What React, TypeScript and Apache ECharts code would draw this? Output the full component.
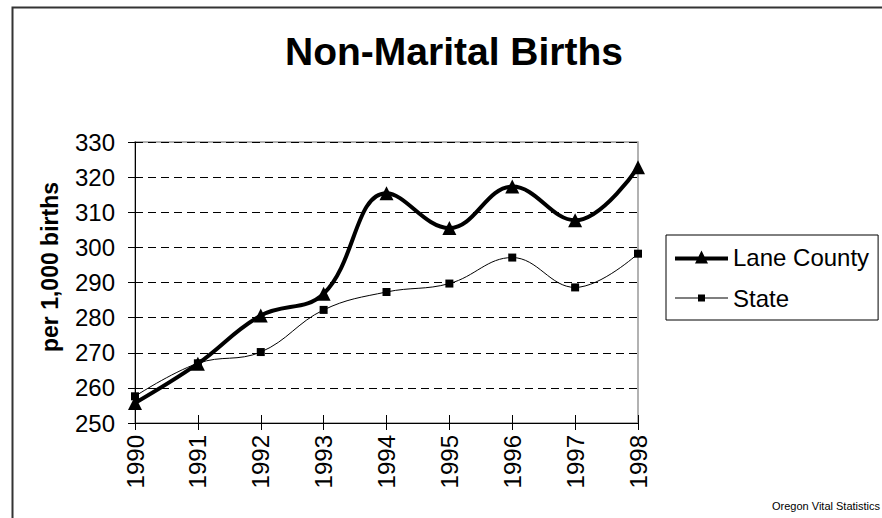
import React, { useEffect, useRef } from "react";
import * as echarts from "echarts";

const years = ["1990", "1991", "1992", "1993", "1994", "1995", "1996", "1997", "1998"];
const laneCounty = [255.7, 266.9, 280.6, 286.8, 315.4, 305.5, 317.3, 307.7, 322.8];
const state = [257.6, 267.0, 270.2, 282.2, 287.3, 289.7, 297.1, 288.6, 298.2];
const titleText = "Non-Marital Births";
const yAxisName = "per 1,000 births";
const sourceText = "Oregon Vital Statistics";

const FONT = "Liberation Sans, Arial, Helvetica, sans-serif";

const laneIcon =
  "path://M0,6 L23.5,6 L26.5,0 L29.5,6 L53,6 L53,10 L31.5,10 L33,13 L20,13 L21.5,10 L0,10 Z";
const stateIcon =
  "path://M0,3 L23,3 L23,0 L30,0 L30,3 L53,3 L53,4 L30,4 L30,7 L23,7 L23,4 L0,4 Z";

export default function App() {
  const ref = useRef<HTMLDivElement>(null);
  useEffect(() => {
    if (!ref.current) return;
    const chart = echarts.init(ref.current, undefined, { renderer: "svg" });
    chart.setOption({
      animation: false,
      backgroundColor: "#ffffff",
      textStyle: { fontFamily: FONT, color: "#000" },
      title: {
        text: titleText,
        left: 449,
        top: 27,
        textAlign: "center",
        textStyle: { fontSize: 39, fontWeight: "bold", color: "#000", fontFamily: FONT },
      },
      graphic: [
        {
          type: "rect",
          left: 10,
          top: 5,
          shape: { width: 900, height: 600 },
          style: { fill: "none", stroke: "#333", lineWidth: 2 },
          silent: true,
        },
        {
          type: "text",
          left: 772,
          top: 500,
          style: { text: sourceText, fontSize: 11, fill: "#000", fontFamily: FONT },
          silent: true,
        },
        {
          type: "text",
          x: 50,
          y: 267,
          rotation: Math.PI / 2,
          style: {
            text: yAxisName,
            fontSize: 23,
            fontWeight: "bold",
            fill: "#000",
            fontFamily: FONT,
            align: "center",
            verticalAlign: "middle",
          },
          silent: true,
        },
      ],
      legend: {
        orient: "vertical",
        left: 666,
        top: 235,
        padding: [10, 9, 10, 9],
        itemGap: 17,
        itemWidth: 53,
        itemHeight: 14,
        borderColor: "#000",
        borderWidth: 1,
        textStyle: { fontSize: 24, color: "#000", fontFamily: FONT },
        itemStyle: { borderWidth: 0 },
        data: [
          { name: "Lane County", icon: laneIcon },
          { name: "State", icon: stateIcon },
        ],
      },
      grid: {
        left: 135,
        right: 244,
        top: 142,
        bottom: 95,
        show: true,
        borderColor: "#999",
        borderWidth: 1.5,
        backgroundColor: "transparent",
      },
      xAxis: [
        {
          type: "category",
          data: years,
          boundaryGap: false,
          axisLine: { show: true, lineStyle: { color: "#000", width: 1 } },
          axisTick: { show: true, length: 7, alignWithLabel: true, lineStyle: { color: "#000" } },
          axisLabel: { rotate: 90, fontSize: 24, margin: 12, color: "#000", fontFamily: FONT },
          splitLine: { show: false },
        },
        {
          type: "category",
          data: years,
          position: "bottom",
          offset: 0,
          boundaryGap: false,
          axisLine: { show: false },
          axisTick: { show: true, inside: true, length: 8, lineStyle: { color: "#000" } },
          axisLabel: { show: false },
          splitLine: { show: false },
        },
      ],
      yAxis: {
        type: "value",
        min: 250,
        max: 330,
        interval: 10,
        axisLine: { show: true, lineStyle: { color: "#000", width: 1 } },
        axisTick: { show: true, length: 7, lineStyle: { color: "#000" } },
        axisLabel: { fontSize: 24, margin: 20, color: "#000", fontFamily: FONT },
        splitLine: { show: true, lineStyle: { color: "#000", type: [8, 5], width: 1 } },
      },
      series: [
        {
          name: "State",
          type: "line",
          data: state,
          smooth: 0.4,
          symbol: "rect",
          symbolSize: 8,
          lineStyle: { color: "#000", width: 1 },
          itemStyle: { color: "#000" },
          z: 2,
        },
        {
          name: "Lane County",
          type: "line",
          data: laneCounty,
          smooth: 0.4,
          symbol: "triangle",
          symbolSize: 14,
          lineStyle: { color: "#000", width: 4 },
          itemStyle: { color: "#000" },
          z: 3,
        },
      ],
    });
    return () => chart.dispose();
  }, []);
  return (
    <div
      ref={ref}
      style={{ position: "fixed", left: 0, top: 0, width: 882, height: 518 }}
    />
  );
}
